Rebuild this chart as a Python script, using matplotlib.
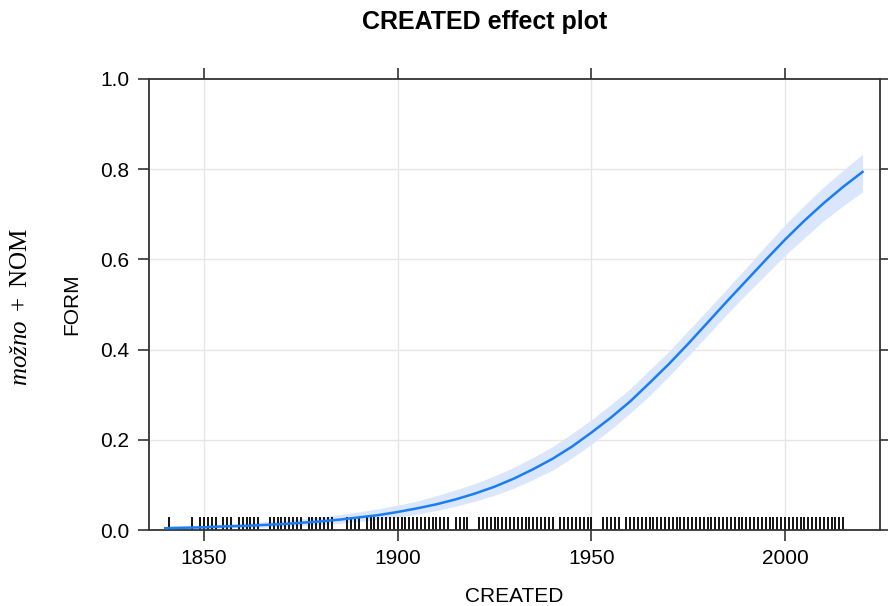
import matplotlib
matplotlib.use('Agg')
import matplotlib.pyplot as plt
import numpy as np

# fitted effect and confidence band
years = [1840, 1845, 1850, 1855, 1860, 1865, 1870, 1875, 1880, 1885,
         1890, 1895, 1900, 1905, 1910, 1915, 1920, 1925, 1930, 1935,
         1940, 1945, 1950, 1955, 1960, 1965, 1970, 1975, 1980, 1985,
         1990, 1995, 2000, 2005, 2010, 2015, 2020]
fit = [0.004, 0.005, 0.006, 0.008, 0.009, 0.011, 0.013, 0.016, 0.019, 0.023,
       0.028, 0.033, 0.040, 0.048, 0.057, 0.068, 0.081, 0.096, 0.114, 0.135,
       0.158, 0.185, 0.216, 0.249, 0.285, 0.326, 0.368, 0.413, 0.460, 0.507,
       0.553, 0.599, 0.644, 0.686, 0.725, 0.761, 0.794]
lower = [0.002, 0.0025, 0.003, 0.004, 0.005, 0.006, 0.008, 0.010, 0.012, 0.015,
         0.019, 0.023, 0.028, 0.035, 0.043, 0.053, 0.064, 0.077, 0.093, 0.112,
         0.133, 0.160, 0.190, 0.223, 0.259, 0.298, 0.341, 0.386, 0.432, 0.479,
         0.523, 0.566, 0.609, 0.648, 0.686, 0.719, 0.750]
upper = [0.008, 0.0095, 0.011, 0.013, 0.015, 0.018, 0.021, 0.025, 0.029, 0.034,
         0.040, 0.047, 0.055, 0.064, 0.076, 0.089, 0.103, 0.120, 0.139, 0.161,
         0.185, 0.214, 0.244, 0.278, 0.313, 0.355, 0.396, 0.442, 0.488, 0.535,
         0.582, 0.630, 0.677, 0.720, 0.761, 0.798, 0.833]

# rug (observed CREATED years)
rug_years = ([1841, 1847, 1849, 1850, 1851, 1852, 1853, 1855, 1856, 1857,
              1859, 1860, 1861, 1862, 1863, 1864, 1867, 1868, 1869, 1870,
              1871, 1872, 1873, 1874, 1875, 1877, 1878, 1879, 1880, 1881,
              1882, 1883, 1887, 1888, 1889, 1890]
             + list(range(1892, 1914)) + [1915, 1916, 1917, 1918]
             + list(range(1921, 1941)) + list(range(1942, 1951))
             + list(range(1953, 1958)) + list(range(1959, 2016)))

xticks = [1850, 1900, 1950, 2000]
yticks = [0.0, 0.2, 0.4, 0.6, 0.8, 1.0]

plt.rcParams['font.family'] = ['Liberation Sans', 'DejaVu Sans']
plt.rcParams['mathtext.fontset'] = 'custom'
plt.rcParams['mathtext.rm'] = 'Liberation Serif'
plt.rcParams['mathtext.it'] = 'Liberation Serif:italic'

fig = plt.figure(figsize=(8.88, 6.06), dpi=100)
ax = fig.add_axes([149 / 888, 1 - 530 / 606, (880 - 149) / 888, (530 - 79) / 606])

edge = '#333333'
ax.set_xlim(1835.8, 2024.5)
ax.set_ylim(0, 1)

for x in xticks:
    ax.axvline(x, color='#e6e6e6', lw=1, zorder=0)
for y in yticks[1:-1]:
    ax.axhline(y, color='#e6e6e6', lw=1, zorder=0)

ax.fill_between(years, lower, upper, color='#d9e6fb', lw=0, zorder=1)
ax.plot(years, fit, color='#1a7df5', lw=1.8, zorder=3)

ax.vlines(rug_years, 0, 0.029, color='black', lw=1.3, zorder=2)

ax.set_xticks(xticks)
ax.set_yticks(yticks)
ax.set_yticklabels(['%.1f' % v for v in yticks])
ax.tick_params(direction='out', length=8, width=1.2, color=edge,
               labelsize=15, top=True, right=True, pad=6)
for s in ax.spines.values():
    s.set_color(edge)
    s.set_linewidth(1.3)

ax.set_xlabel('CREATED', fontsize=15, labelpad=13)
ax.set_ylabel('FORM', fontsize=15, labelpad=14)

fig.text(485 / 888, 1 - 22 / 606, 'CREATED effect plot', ha='center', va='center',
         fontsize=18, fontweight='bold')
fig.text(20 / 888, 1 - 307 / 606, r'$\mathit{možno}\ +\ \mathrm{NOM}$', ha='center',
         va='center', rotation=90, fontsize=18)

fig.savefig('out.png', dpi=100)
